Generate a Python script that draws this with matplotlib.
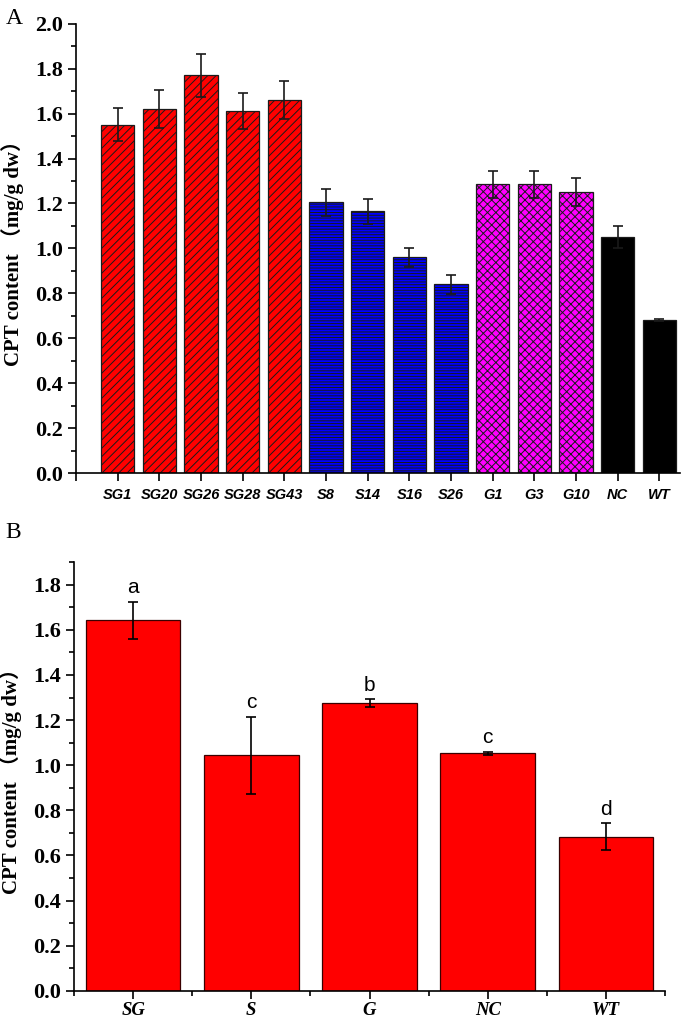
import matplotlib
matplotlib.use("Agg")
import matplotlib.pyplot as plt
from matplotlib.ticker import MultipleLocator, FormatStrFormatter, FixedLocator
import numpy as np

# ---------------- data ----------------
groups_A = ['SG1', 'SG20', 'SG26', 'SG28', 'SG43', 'S8', 'S14', 'S16', 'S26',
            'G1', 'G3', 'G10', 'NC', 'WT']
values_A = [1.55, 1.62, 1.77, 1.61, 1.66, 1.205, 1.165, 0.96, 0.84,
            1.285, 1.285, 1.253, 1.052, 0.681]
errors_A = [0.074, 0.086, 0.095, 0.08, 0.083, 0.06, 0.055, 0.043, 0.043,
            0.06, 0.06, 0.062, 0.05, 0.004]
colors_A = ['#FF0000'] * 5 + ['#0000FF'] * 4 + ['#FF00FF'] * 3 + ['#000000'] * 2
hatches_A = ['////'] * 5 + ['------'] * 4 + ['xxxx'] * 3 + [''] * 2

groups_B = ['SG', 'S', 'G', 'NC', 'WT']
values_B = [1.642, 1.043, 1.274, 1.052, 0.682]
errors_B = [0.083, 0.172, 0.018, 0.008, 0.06]
letters_B = ['a', 'c', 'b', 'c', 'd']

ylabel = 'CPT content （mg/g dw）'

# ---------------- style ----------------
plt.rcParams['hatch.linewidth'] = 0.7
serif = ['Liberation Serif', 'Noto Sans CJK SC', 'DejaVu Serif']

fig = plt.figure(figsize=(6.85, 10.24), dpi=100)

def style_axes(ax):
    for s in ['top', 'right']:
        ax.spines[s].set_visible(False)
    for s in ['left', 'bottom']:
        ax.spines[s].set_linewidth(1.2)
    ax.yaxis.set_major_formatter(FormatStrFormatter('%.1f'))
    ax.yaxis.set_major_locator(MultipleLocator(0.2))
    ax.yaxis.set_minor_locator(MultipleLocator(0.1))
    ax.tick_params(axis='both', which='major', direction='out', length=6, width=1.2)
    ax.tick_params(axis='both', which='minor', direction='out', length=3.5, width=1.2)
    for lab in ax.get_yticklabels():
        lab.set_fontfamily(serif)
        lab.set_fontweight('bold')
        lab.set_fontsize(16)

# ---------------- Panel A ----------------
axA = fig.add_axes([0.111, 0.538, 0.882, 0.4388])
xA = np.arange(1, len(groups_A) + 1)
for x, v, e, c, h in zip(xA, values_A, errors_A, colors_A, hatches_A):
    axA.bar(x, v, width=0.8, color=c, edgecolor='#1a1a1a', linewidth=0.9,
            hatch=h, zorder=2)
    axA.errorbar(x, v, yerr=e, fmt='none', ecolor='#1a1a1a', elinewidth=1.2,
                 capsize=3.6, capthick=1.2, zorder=3)
axA.set_xlim(0, len(groups_A) + 0.5)
axA.set_ylim(0, 2.0)
style_axes(axA)
axA.xaxis.set_major_locator(FixedLocator(np.arange(0, len(groups_A) + 1)))
axA.set_xticklabels([''] + groups_A, fontfamily='Liberation Sans',
                    fontweight='bold', fontstyle='italic', fontsize=10.5)
axA.tick_params(axis='x', pad=5)
axA.set_ylabel(ylabel, fontfamily=serif, fontweight='bold', fontsize=15, labelpad=8)
fig.text(0.008, 0.992, 'A', fontfamily=serif, fontsize=17, va='top', ha='left')

# ---------------- Panel B ----------------
axB = fig.add_axes([0.108, 0.0325, 0.863, 0.4185])
xB = np.arange(1, len(groups_B) + 1)
axB.bar(xB, values_B, width=0.8, color='#FF0000', edgecolor='#3a0000',
        linewidth=0.9, zorder=2)
axB.errorbar(xB, values_B, yerr=errors_B, fmt='none', ecolor='black',
             elinewidth=1.2, capsize=3.3, capthick=1.2, zorder=3)
for x, v, e, t in zip(xB, values_B, errors_B, letters_B):
    axB.text(x, v + e + 0.02, t, ha='center', va='bottom',
             fontfamily='Liberation Sans', fontsize=15)
axB.set_xlim(0.5, len(groups_B) + 0.5)
axB.set_ylim(0, 1.9)
style_axes(axB)
axB.set_xticks(xB)
axB.set_xticklabels(groups_B, fontfamily=serif, fontweight='bold',
                    fontstyle='italic', fontsize=13.5)
axB.xaxis.set_minor_locator(FixedLocator(np.arange(0.5, len(groups_B) + 1, 1.0)))
axB.tick_params(axis='x', pad=2)
axB.set_ylabel(ylabel, fontfamily=serif, fontweight='bold', fontsize=15, labelpad=8)
fig.text(0.008, 0.49, 'B', fontfamily=serif, fontsize=17, va='top', ha='left')

fig.savefig('out.png', dpi=100)
